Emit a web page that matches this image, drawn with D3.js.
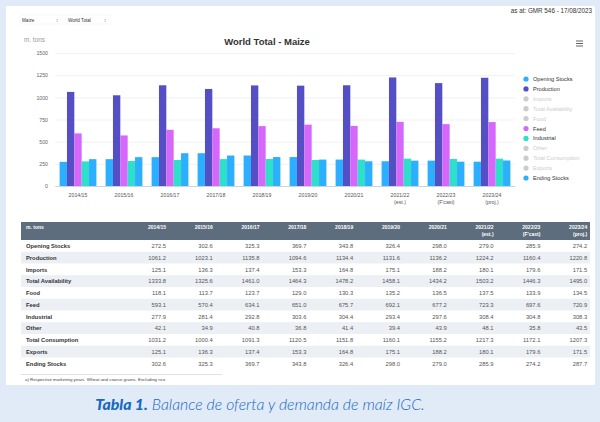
<!DOCTYPE html>
<html>
<head>
<meta charset="utf-8">
<script src="https://cdn.jsdelivr.net/npm/d3@7"></script>
<style>
  body { margin: 0; background: #e1ebf7; }
  svg { display: block; font-family: "Liberation Sans", Arial, sans-serif; }
</style>
</head>
<body>
<svg id="chart" width="600" height="422"></svg>
<script>
var years = ["2014/15","2015/16","2016/17","2017/18","2018/19","2019/20","2020/21","2021/22","2022/23","2023/24"];
var yearNotes = ["","","","","","","","(est.)","(F'cast)","(proj.)"];

var rowNames = ["Opening Stocks","Production","Imports","Total Availability","Food","Feed","Industrial","Other","Total Consumption","Exports","Ending Stocks"];
var openingStocks = [272.5,302.6,325.3,369.7,343.8,326.4,298.0,279.0,285.9,274.2];
var production = [1061.2,1023.1,1135.8,1094.6,1134.4,1131.6,1136.2,1224.2,1160.4,1220.8];
var imports = [125.1,136.3,137.4,153.3,164.8,175.1,188.2,180.1,179.6,171.5];
var totalAvailability = [1333.8,1325.6,1461.0,1464.3,1478.2,1458.1,1434.2,1503.2,1446.3,1495.0];
var food = [118.1,113.7,123.7,129.0,130.3,135.2,136.5,137.5,133.9,134.5];
var feed = [593.1,570.4,634.1,651.0,675.7,692.1,677.2,723.3,697.6,720.9];
var industrial = [277.9,281.4,292.8,303.6,304.4,293.4,297.6,308.4,304.8,308.3];
var other = [42.1,34.9,40.8,36.8,41.4,39.4,43.9,48.1,35.8,43.5];
var totalConsumption = [1031.2,1000.4,1091.3,1120.5,1151.8,1160.1,1155.2,1217.3,1172.1,1207.3];
var exportsV = [125.1,136.3,137.4,153.3,164.8,175.1,188.2,180.1,179.6,171.5];
var endingStocks = [302.6,325.3,369.7,343.8,326.4,298.0,279.0,285.9,274.2,287.7];

var seriesColors = ["#2caffe","#544fc5","#00e272","#fe6a35","#6b8abc","#d568fb","#2ee0ca","#fa4b42","#feb56a","#91e8e1","#2caffe"];
var visible = [true,true,false,false,false,true,true,false,false,false,true];
var yTicks = [0,250,500,750,1000,1250,1500];

var rows = [openingStocks,production,imports,totalAvailability,food,feed,industrial,other,totalConsumption,exportsV,endingStocks];

var svg = d3.select("#chart");

// white card
svg.append("rect").attr("x",6).attr("y",6).attr("width",589).attr("height",379).attr("fill","#fff");

svg.append("text").attr("x",592).attr("y",13).attr("text-anchor","end")
  .attr("font-size",6.3).attr("fill","#333").text("as at: GMR 546 - 17/08/2023");

// dropdowns
[["Maize",22,40],["World Total",68,42]].forEach(function(d){
  svg.append("rect").attr("x",d[1]-2).attr("y",15).attr("width",d[2]+2).attr("height",9)
    .attr("fill","#fff").attr("stroke","#eee").attr("stroke-width",0.5);
  svg.append("text").attr("x",d[1]).attr("y",21.5).attr("font-size",4.6).attr("fill","#333").text(d[0]);
  svg.append("text").attr("x",d[1]+d[2]-6).attr("y",21.5).attr("font-size",4.6).attr("fill","#555").text("\u2195");
});

svg.append("text").attr("x",24).attr("y",42).attr("font-size",6.4).attr("fill","#999").text("m. tons");
svg.append("text").attr("x",267).attr("y",45).attr("text-anchor","middle")
  .attr("font-size",9.5).attr("font-weight","bold").attr("fill","#333").text("World Total - Maize");

// hamburger
[40.5,43,45.5].forEach(function(y){
  svg.append("rect").attr("x",576).attr("y",y).attr("width",7).attr("height",1).attr("fill","#666");
});

var x0 = d3.scaleBand().domain(years).range([55,515]).paddingInner(0.2).paddingOuter(0.1);
var y = d3.scaleLinear().domain([0,1500]).range([186,53]);

var shown = rowNames.map(function(n,i){return i;}).filter(function(i){return visible[i];});
var x1 = d3.scaleBand().domain(shown).range([0,x0.bandwidth()]).padding(0);

var grid = svg.append("g")
  .call(d3.axisLeft(y).tickValues(yTicks).tickSize(-460).tickFormat(d3.format("d")))
  .attr("transform","translate(515,0)");
grid.select(".domain").remove();
grid.selectAll(".tick line").attr("stroke","#e8e8e8").attr("stroke-width",0.6)
  .attr("transform","translate(-460,0)").attr("x2",460);
grid.selectAll(".tick text").attr("x",-467).attr("font-size",5.2).attr("fill","#666").attr("font-family",null);

var groups = svg.append("g").selectAll("g").data(years).join("g")
  .attr("transform",function(d){return "translate("+x0(d)+",0)";});
groups.selectAll("rect").data(function(d,j){return shown.map(function(i){return {i:i,v:rows[i][j]};});})
  .join("rect")
  .attr("x",function(d){return x1(d.i);})
  .attr("width",x1.bandwidth())
  .attr("y",function(d){return y(d.v);})
  .attr("height",function(d){return 186-y(d.v);})
  .attr("fill",function(d){return seriesColors[d.i];});

var xa = svg.append("g").attr("transform","translate(0,186)").call(d3.axisBottom(x0).tickSize(0).tickPadding(0));
xa.select(".domain").attr("stroke","#c8ccd6").attr("stroke-width",0.8);
xa.selectAll(".tick text").remove();
years.forEach(function(yr,j){
  var t = svg.append("text").attr("x",x0(yr)+x0.bandwidth()/2).attr("y",197)
    .attr("text-anchor","middle").attr("font-size",5.2).attr("fill","#555");
  t.append("tspan").text(yr);
  if (yearNotes[j]) t.append("tspan").attr("x",x0(yr)+x0.bandwidth()/2).attr("dy",7).text(yearNotes[j]);
});

// legend
var leg = svg.append("g").selectAll("g").data(rowNames).join("g")
  .attr("transform",function(d,i){return "translate(526,"+(79+i*9.9)+")";});
leg.append("circle").attr("r",2.6).attr("fill",function(d,i){return visible[i]?seriesColors[i]:"#ccc";});
leg.append("text").attr("x",7).attr("y",2).attr("font-size",5.6)
  .attr("fill",function(d,i){return visible[i]?"#333":"#ccc";}).text(function(d){return d;});

// table
var colRight = function(j){return 166 + j*46.8;};
svg.append("rect").attr("x",21).attr("y",222).attr("width",569).attr("height",18).attr("fill","#5e6d7e");
svg.append("text").attr("x",26).attr("y",229).attr("font-size",5).attr("font-weight","bold").attr("fill","#fff").text("m. tons");
years.forEach(function(yr,j){
  var t = svg.append("text").attr("x",colRight(j)).attr("y",229).attr("text-anchor","end")
    .attr("font-size",5).attr("font-weight","bold").attr("fill","#fff");
  t.append("tspan").text(yr);
  if (yearNotes[j]) t.append("tspan").attr("x",colRight(j)).attr("dy",6.5).text(yearNotes[j]);
});
var rowH = 11.75;
rowNames.forEach(function(name,i){
  var top = 240 + i*rowH;
  if (i % 2 === 1) svg.append("rect").attr("x",21).attr("y",top).attr("width",569).attr("height",rowH).attr("fill","#eceff4");
  svg.append("text").attr("x",26).attr("y",top+8).attr("font-size",5.8).attr("font-weight","bold").attr("fill","#333").text(name);
  rows[i].forEach(function(v,j){
    svg.append("text").attr("x",colRight(j)).attr("y",top+8).attr("text-anchor","end")
      .attr("font-size",5.8).attr("fill","#555").text(d3.format(".1f")(v));
  });
});
svg.append("line").attr("x1",21).attr("x2",222).attr("y1",374.5).attr("y2",374.5).attr("stroke","#ccc").attr("stroke-width",0.6);
svg.append("text").attr("x",25).attr("y",381).attr("font-size",4.4).attr("fill","#444")
  .text("a) Respective marketing years. Wheat and coarse grains. Excluding rice");

// caption
var cap = svg.append("text").attr("x",260).attr("y",410).attr("text-anchor","middle")
  .attr("font-size",15.8).attr("font-style","italic").attr("fill","#1669c0").attr("font-family","Lato, 'Open Sans', sans-serif");
cap.append("tspan").attr("font-weight","900").text("Tabla 1.");
cap.append("tspan").attr("font-weight","300").text(" Balance de oferta y demanda de maíz IGC.");
</script>
</body>
</html>
